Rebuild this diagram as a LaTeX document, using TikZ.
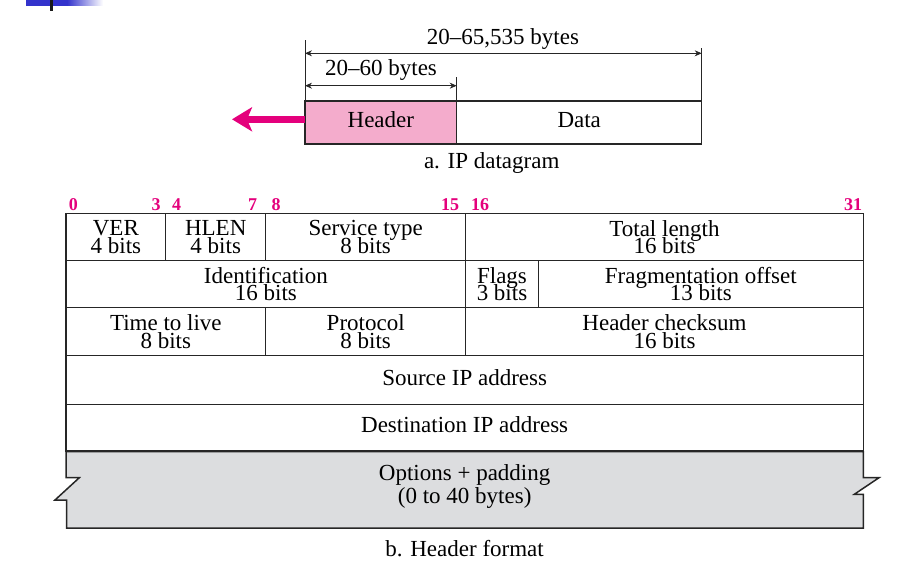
\documentclass[tikz,border=0pt]{standalone}
\usepackage{fontspec}
\setmainfont{Liberation Serif}
\usetikzlibrary{arrows.meta}
\definecolor{mag}{RGB}{228,0,124}
\definecolor{pinkfill}{RGB}{244,172,204}
\definecolor{grayfill}{RGB}{220,221,223}
\definecolor{barblue}{RGB}{51,51,204}
\newcommand\mytightlines{\lineskiplimit=-100pt\relax\lineskip=0pt\relax}
\tikzset{
  cell/.style={draw=black!85, line width=1.5pt, inner sep=0pt, outer sep=0pt, align=center,
    font=\fontsize{23}{17.5}\selectfont\mytightlines},
  oneline/.style={text height=16pt, text depth=6pt},
  txt/.style={font=\fontsize{23}{17.5}\selectfont, inner sep=0pt, anchor=base},
  bitnum/.style={font=\fontsize{18}{18}\selectfont\bfseries, text=mag, inner sep=0pt, anchor=base},
  dimline/.style={line width=0.8pt, black!85, {Stealth[length=7pt,width=6pt]}-{Stealth[length=7pt,width=6pt]}},
  tick/.style={line width=0.8pt, black!85},
}
\begin{document}
\begin{tikzpicture}[x=1pt,y=-1pt]
\useasboundingbox (0,0) rectangle (920,578);
% slide decoration
\fill[barblue] (26,0) rectangle (67,6);
\shade[left color=barblue, right color=white] (67,0) rectangle (103,6);
\fill[black!90] (50,0) rectangle (53,11);

% ---- a. IP datagram ----
\node[cell, oneline, fill=pinkfill, minimum width=151.7pt, minimum height=43pt] (hdr) at (380.85,122.5) {Header};
\node[cell, oneline, minimum width=245pt, minimum height=43pt] (data) at (579.2,122.5) {Data};
\coordinate (tipc) at (232,119.3);
\draw[mag, line width=7pt, -{Stealth[length=20pt,width=24pt,inset=5pt]}] (hdr.west |- tipc) -- (tipc);

\coordinate (tl) at (305,40);
\coordinate (tr) at (701.7,48);
\coordinate (tm) at (456.7,77);
\draw[tick] (hdr.north west) -- (tl);
\draw[tick] (data.north east) -- (tr);
\draw[tick] (hdr.north east) -- (tm);
\coordinate (d1l) at (305,53.3);
\coordinate (d1r) at (701.7,53.3);
\coordinate (d2l) at (305,85.7);
\coordinate (d2r) at (456.7,85.7);
\draw[dimline] (d1l) -- (d1r);
\draw[dimline] (d2l) -- (d2r);
\node[txt] (lab1) at (503,45) {20–65,535 bytes};
\node[txt] (lab2) at (381,75) {20–60 bytes};
\node[txt] (capa) at (491.7,168.3) {a. IP datagram};

% ---- b. Header format ----
\node[bitnum] (b0) at (73.3,210.5) {0};
\node[bitnum] (b3) at (156,210.5) {3};
\node[bitnum] (b4) at (176.7,210.5) {4};
\node[bitnum] (b7) at (252.7,210.5) {7};
\node[bitnum] (b8) at (276,210.5) {8};
\node[bitnum] (b15) at (450,210.5) {15};
\node[bitnum] (b16) at (480,210.5) {16};
\node[bitnum] (b31) at (853,210.5) {31};

% row 1
\node[cell, minimum width=99.7pt, minimum height=47.4pt] (ver) at (115.85,237) {VER\\4 bits};
\node[cell, minimum width=100pt, minimum height=47.4pt] (hlen) at (215.7,237) {HLEN\\4 bits};
\node[cell, minimum width=200pt, minimum height=47.4pt] (tos) at (365.7,237) {Service type\\8 bits};
\node[cell, minimum width=397.6pt, minimum height=47.4pt] (tlen) at (664.5,237) {Total length\\16 bits};
% row 2
\node[cell, minimum width=399.7pt, minimum height=46.6pt] (ident) at (265.85,284) {Identification\\16 bits};
\node[cell, minimum width=72.6pt, minimum height=46.6pt] (flags) at (502,284) {Flags\\3 bits};
\node[cell, minimum width=325pt, minimum height=46.6pt] (frag) at (700.8,284) {Fragmentation offset\\13 bits};
% row 3
\node[cell, minimum width=199.7pt, minimum height=48.4pt] (ttl) at (165.85,331.5) {Time to live\\8 bits};
\node[cell, minimum width=200pt, minimum height=48.4pt] (proto) at (365.7,331.5) {Protocol\\8 bits};
\node[cell, minimum width=397.6pt, minimum height=48.4pt] (csum) at (664.5,331.5) {Header checksum\\16 bits};
% rows 4, 5
\node[cell, oneline, minimum width=797.3pt, minimum height=48.6pt] (src) at (464.65,380) {Source IP address};
\node[cell, oneline, minimum width=797.3pt, minimum height=46.7pt] (dst) at (464.65,427.65) {Destination IP address};
% options
\draw[fill=grayfill, draw=black!85, line width=1.5pt, line join=miter]
  (66,451.5) -- (66,477.7) -- (79.3,477.7) -- (55,500) -- (66.7,500) -- (66.7,528)
  -- (863.3,528) -- (863.3,494.3) -- (854.3,494.3) -- (879,477.7) -- (863.3,477.7)
  -- (863.3,451.5) -- cycle;
\node[txt] (opt1) at (464.65,480) {Options + padding};
\node[txt] (opt2) at (464.65,503.3) {(0 to 40 bytes)};
\node[txt] (capb) at (464.65,556.7) {b. Header format};
\end{tikzpicture}
\end{document}
